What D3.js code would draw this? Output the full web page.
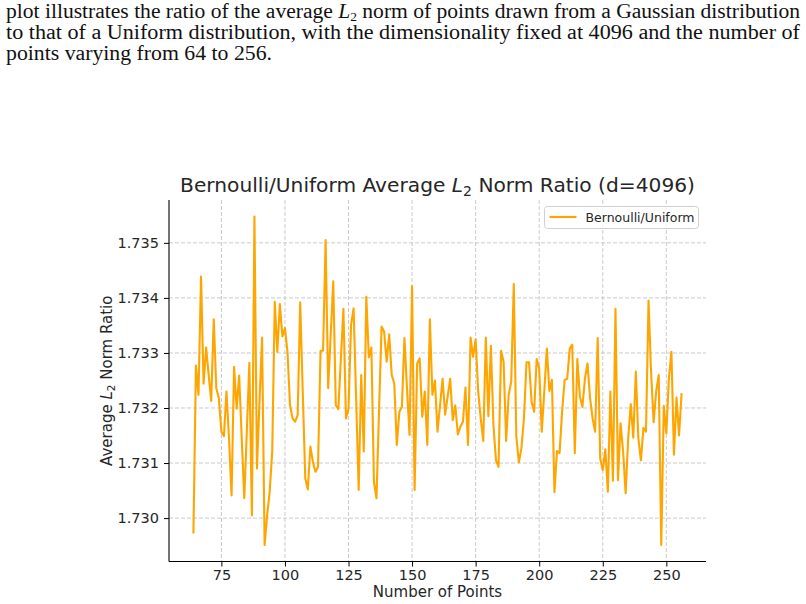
<!DOCTYPE html>
<html>
<head>
<meta charset="utf-8">
<script src="https://cdn.jsdelivr.net/npm/d3@7"></script>
<style>
  body { margin: 0; background: #fff; }
  svg { display: block; }
</style>
</head>
<body>
<div id="chart"></div>
<script>
// data
const nPoints = d3.range(64, 257);
const ratioValues = [
  1.72972, 1.73277, 1.73224, 1.73439, 1.73244, 1.73310, 1.73260, 1.73213, 1.73361, 1.73236,
  1.73218, 1.73157, 1.73149, 1.73230, 1.73145, 1.73041, 1.73275, 1.73199, 1.73259, 1.73145,
  1.73036, 1.73157, 1.73282, 1.73005, 1.73548, 1.73090, 1.73212, 1.73328, 1.72951, 1.73005,
  1.73048, 1.73121, 1.73393, 1.73302, 1.73389, 1.73330, 1.73345, 1.73302, 1.73205, 1.73181,
  1.73175, 1.73187, 1.73392, 1.73230, 1.73072, 1.73052, 1.73130, 1.73102, 1.73084, 1.73093,
  1.73304, 1.73304, 1.73505, 1.73236, 1.73333, 1.73430, 1.73205, 1.73198, 1.73290, 1.73380,
  1.73181, 1.73199, 1.73351, 1.73381, 1.73218, 1.73051, 1.73260, 1.73121, 1.73402, 1.73292,
  1.73310, 1.73066, 1.73036, 1.73193, 1.73348, 1.73339, 1.73284, 1.73334, 1.73260, 1.73245,
  1.73133, 1.73193, 1.73202, 1.73327, 1.73236, 1.73151, 1.73421, 1.73051, 1.73281, 1.73290,
  1.73184, 1.73230, 1.73133, 1.73361, 1.73224, 1.73250, 1.73157, 1.73205, 1.73253, 1.73188,
  1.73221, 1.73253, 1.73178, 1.73205, 1.73152, 1.73166, 1.73175, 1.73237, 1.73133, 1.73328,
  1.73293, 1.73325, 1.73230, 1.73181, 1.73140, 1.73328, 1.73185, 1.73313, 1.73169, 1.73105,
  1.73093, 1.73304, 1.73284, 1.73140, 1.73224, 1.73248, 1.73425, 1.73148, 1.73101, 1.73127,
  1.73181, 1.73283, 1.73283, 1.73212, 1.73193, 1.73289, 1.73272, 1.73157, 1.73230, 1.73308,
  1.73231, 1.73251, 1.73047, 1.73122, 1.73118, 1.73193, 1.73251, 1.73253, 1.73308, 1.73315,
  1.73118, 1.73289, 1.73221, 1.73202, 1.73254, 1.73281, 1.73218, 1.73181, 1.73157, 1.73327,
  1.73108, 1.73087, 1.73125, 1.73048, 1.73230, 1.73068, 1.73380, 1.73069, 1.73172, 1.73121,
  1.73045, 1.73145, 1.73207, 1.73146, 1.73266, 1.73145, 1.73105, 1.73164, 1.73157, 1.73395,
  1.73266, 1.73174, 1.73230, 1.73260, 1.72951, 1.73204, 1.73154, 1.73254, 1.73302, 1.73115,
  1.73219, 1.73150, 1.73227
];
const xTicks = [75, 100, 125, 150, 175, 200, 225, 250];
const yTicks = [1.730, 1.731, 1.732, 1.733, 1.734, 1.735];
const seriesName = 'Bernoulli/Uniform';
const captionLines = [
  ['plot illustrates the ratio of the average ', 'L', '2', ' norm of points drawn from a Gaussian distribution'],
  ['to that of a Uniform distribution, with the dimensionality fixed at 4096 and the number of'],
  ['points varying from 64 to 256.']
];

const width = 806, height = 604;
const plot = { left: 169, right: 706, top: 200, bottom: 561.5 };

const svg = d3.select('#chart')
  .append('svg')
  .attr('width', width)
  .attr('height', height);

// caption text above the figure
const capLens = [794, 794, 266];
captionLines.forEach((parts, i) => {
  const t = svg.append('text')
    .attr('x', 6)
    .attr('y', 18 + i * 21)
    .attr('font-family', '"Liberation Serif", "DejaVu Serif", serif')
    .attr('font-size', 20)
    .attr('fill', '#111')
    .attr('textLength', capLens[i])
    .attr('lengthAdjust', 'spacingAndGlyphs');
  if (parts.length === 1) {
    t.text(parts[0]);
  } else {
    t.append('tspan').text(parts[0]);
    t.append('tspan').attr('font-style', 'italic').text(parts[1]);
    t.append('tspan').attr('font-size', 12.5).attr('dy', 3).text(parts[2]);
    t.append('tspan').attr('dy', -3).text(parts[3]);
  }
});

// scales with matplotlib-like 5% margins
const xExt = d3.extent(nPoints), yExt = d3.extent(ratioValues);
const xPad = (xExt[1] - xExt[0]) * 0.05, yPad = (yExt[1] - yExt[0]) * 0.05;
const x = d3.scaleLinear()
  .domain([xExt[0] - xPad, xExt[1] + xPad])
  .range([plot.left, plot.right]);
const y = d3.scaleLinear()
  .domain([yExt[0] - yPad, yExt[1] + yPad])
  .range([plot.bottom, plot.top]);

const font = '"DejaVu Sans", sans-serif';
const textCol = '#262626';

// grid
const grid = svg.append('g')
  .attr('stroke', '#c4c4c4')
  .attr('stroke-width', 0.9)
  .attr('stroke-dasharray', '4,2');
grid.selectAll('line.vx')
  .data(xTicks)
  .join('line')
  .attr('x1', d => x(d)).attr('x2', d => x(d))
  .attr('y1', plot.top).attr('y2', plot.bottom);
grid.selectAll('line.hy')
  .data(yTicks)
  .join('line')
  .attr('x1', plot.left).attr('x2', plot.right)
  .attr('y1', d => y(d)).attr('y2', d => y(d));

// line
const line = d3.line()
  .x((d, i) => x(nPoints[i]))
  .y(d => y(d));
svg.append('path')
  .datum(ratioValues)
  .attr('d', line)
  .attr('fill', 'none')
  .attr('stroke', '#FFA500')
  .attr('stroke-width', 2.1)
  .attr('stroke-linejoin', 'round');

// axes
const xAxis = svg.append('g')
  .attr('transform', `translate(0,${plot.bottom})`)
  .call(d3.axisBottom(x).tickValues(xTicks).tickSize(5).tickPadding(3).tickFormat(d3.format('d')));
const yAxis = svg.append('g')
  .attr('transform', `translate(${plot.left},0)`)
  .call(d3.axisLeft(y).tickValues(yTicks).tickSize(5).tickPadding(5).tickFormat(d3.format('.3f')));
[xAxis, yAxis].forEach(a => {
  a.select('.domain').attr('stroke', '#000').attr('stroke-width', 1.1);
  a.selectAll('.tick line').attr('stroke', '#000');
  a.selectAll('.tick text')
    .attr('font-family', font)
    .attr('font-size', 14.5)
    .attr('fill', textCol);
});
xAxis.select('.domain').attr('d', `M${plot.left},0H${plot.right}`);
yAxis.select('.domain').attr('d', `M0,${plot.bottom}V${plot.top}`);

// title
const title = svg.append('text')
  .attr('x', (plot.left + plot.right) / 2)
  .attr('y', 192)
  .attr('text-anchor', 'middle')
  .attr('font-family', font)
  .attr('font-size', 20.2)
  .attr('fill', textCol);
title.append('tspan').text('Bernoulli/Uniform Average ');
title.append('tspan').attr('font-style', 'italic').text('L');
title.append('tspan').attr('font-size', 14).attr('dy', 4).text('2');
title.append('tspan').attr('dy', -4).text(' Norm Ratio (d=4096)');

// axis labels
svg.append('text')
  .attr('x', (plot.left + plot.right) / 2)
  .attr('y', 597)
  .attr('text-anchor', 'middle')
  .attr('font-family', font)
  .attr('font-size', 15)
  .attr('fill', textCol)
  .text('Number of Points');

const yLab = svg.append('text')
  .attr('transform', `translate(112,${(plot.top + plot.bottom) / 2}) rotate(-90)`)
  .attr('text-anchor', 'middle')
  .attr('font-family', font)
  .attr('font-size', 15)
  .attr('fill', textCol);
yLab.append('tspan').text('Average ');
yLab.append('tspan').attr('font-style', 'italic').text('L');
yLab.append('tspan').attr('font-size', 10.5).attr('dy', 3).text('2');
yLab.append('tspan').attr('dy', -3).text(' Norm Ratio');

// legend
const legend = svg.append('g').attr('transform', 'translate(544.5,206.5)');
legend.append('rect')
  .attr('width', 154).attr('height', 22).attr('rx', 3)
  .attr('fill', '#fff').attr('fill-opacity', 0.85)
  .attr('stroke', '#d0d0d0');
legend.append('line')
  .attr('x1', 5).attr('x2', 32).attr('y1', 10.5).attr('y2', 10.5)
  .attr('stroke', '#FFA500').attr('stroke-width', 2.1);
legend.append('text')
  .attr('x', 41).attr('y', 15)
  .attr('font-family', font)
  .attr('font-size', 12.5)
  .attr('fill', textCol)
  .text(seriesName);
</script>
</body>
</html>
